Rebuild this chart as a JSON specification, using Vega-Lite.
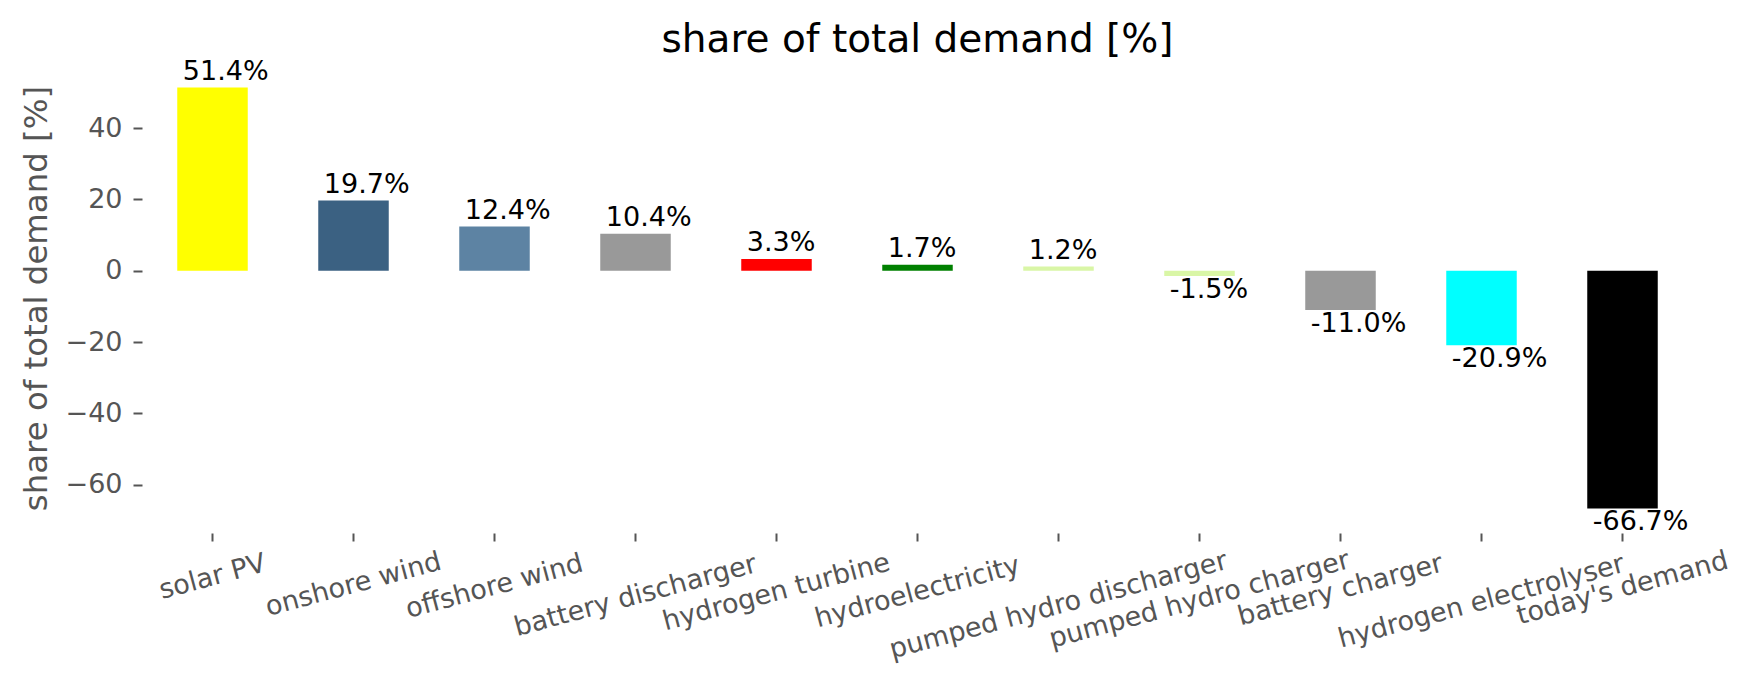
{
  "$schema": "https://vega.github.io/schema/vega-lite/v6.json",
  "width": 1551,
  "height": 470,
  "autosize": "none",
  "padding": {"left": 142, "top": 63, "right": 60, "bottom": 156},
  "background": "white",
  "config": {"view": {"stroke": null}, "font": "DejaVu Sans"},
  "title": {
    "text": "share of total demand [%]",
    "fontSize": 39,
    "fontWeight": "normal",
    "color": "black",
    "font": "DejaVu Sans",
    "anchor": "middle",
    "baseline": "alphabetic",
    "offset": 11,
    "dy": 44
  },
  "data": {
    "values": [
      {"carrier": "solar PV", "share": 51.4},
      {"carrier": "onshore wind", "share": 19.7},
      {"carrier": "offshore wind", "share": 12.4},
      {"carrier": "battery discharger", "share": 10.4},
      {"carrier": "hydrogen turbine", "share": 3.3},
      {"carrier": "hydroelectricity", "share": 1.7},
      {"carrier": "pumped hydro discharger", "share": 1.2},
      {"carrier": "pumped hydro charger", "share": -1.5},
      {"carrier": "battery charger", "share": -11.0},
      {"carrier": "hydrogen electrolyser", "share": -20.9},
      {"carrier": "today's demand", "share": -66.7}
    ]
  },
  "transform": [
    {"calculate": "replace(format(datum.share, '.1f'), '\u2212', '-') + '%'", "as": "label"}
  ],
  "encoding": {
    "x": {
      "field": "carrier",
      "type": "nominal",
      "sort": null,
      "title": null,
      "scale": {
        "type": "band",
        "paddingInner": 0.5,
        "paddingOuter": 0.25,
        "domain": ["solar PV", "onshore wind", "offshore wind", "battery discharger", "hydrogen turbine", "hydroelectricity", "pumped hydro discharger", "pumped hydro charger", "battery charger", "hydrogen electrolyser", "today's demand"]
      },
      "axis": {
        "domain": false,
        "grid": false,
        "labels": false,
        "tickSize": 8,
        "tickWidth": 2,
        "tickColor": "#555555"
      }
    },
    "y": {
      "field": "share",
      "type": "quantitative",
      "title": "share of total demand [%]",
      "scale": {"domain": [-73.6, 58.3], "nice": false, "zero": false},
      "axis": {
        "values": [-60, -40, -20, 0, 20, 40],
        "domain": false,
        "grid": false,
        "tickSize": 9,
        "tickWidth": 2,
        "tickColor": "#555555",
        "labelFontSize": 27,
        "labelFont": "DejaVu Sans",
        "labelColor": "#555555",
        "labelPadding": 11,
        "titleFont": "DejaVu Sans",
        "titleFontSize": 32.4,
        "titleFontWeight": "normal",
        "titleColor": "#555555",
        "titleAngle": 270,
        "titleAlign": "center",
        "titleBaseline": "alphabetic",
        "titleX": -96,
        "titleY": 235
      }
    }
  },
  "layer": [
    {
      "mark": {"type": "bar"},
      "encoding": {
        "color": {
          "field": "carrier",
          "type": "nominal",
          "legend": null,
          "scale": {
            "domain": ["solar PV", "onshore wind", "offshore wind", "battery discharger", "hydrogen turbine", "hydroelectricity", "pumped hydro discharger", "pumped hydro charger", "battery charger", "hydrogen electrolyser", "today's demand"],
            "range": ["#ffff00", "#3b6182", "#5d83a3", "#999999", "#ff0000", "#008000", "#d9f6a6", "#d9f6a6", "#999999", "#00ffff", "#000000"]
          }
        }
      }
    },
    {
      "transform": [{"filter": "datum.share >= 0"}],
      "mark": {"type": "text", "align": "left", "baseline": "alphabetic", "dx": -29.7, "dy": -7.6, "fontSize": 27, "font": "DejaVu Sans", "color": "black"},
      "encoding": {"text": {"field": "label"}}
    },
    {
      "transform": [{"filter": "datum.share < 0"}],
      "mark": {"type": "text", "align": "left", "baseline": "alphabetic", "dx": -29.7, "dy": 21.7, "fontSize": 27, "font": "DejaVu Sans", "color": "black"},
      "encoding": {"text": {"field": "label"}}
    },
    {
      "mark": {
        "type": "text",
        "angle": 345,
        "align": "center",
        "baseline": "middle",
        "fontSize": 27,
        "font": "DejaVu Sans",
        "color": "#555555",
        "dx": {"expr": "-0.259*(29 + 1.9*length(datum.carrier))"},
        "dy": {"expr": "0.966*(29 + 1.9*length(datum.carrier))"}
      },
      "encoding": {
        "y": {"datum": -73.6, "type": "quantitative", "title": "share of total demand [%]"},
        "text": {"field": "carrier"}
      }
    }
  ]
}
